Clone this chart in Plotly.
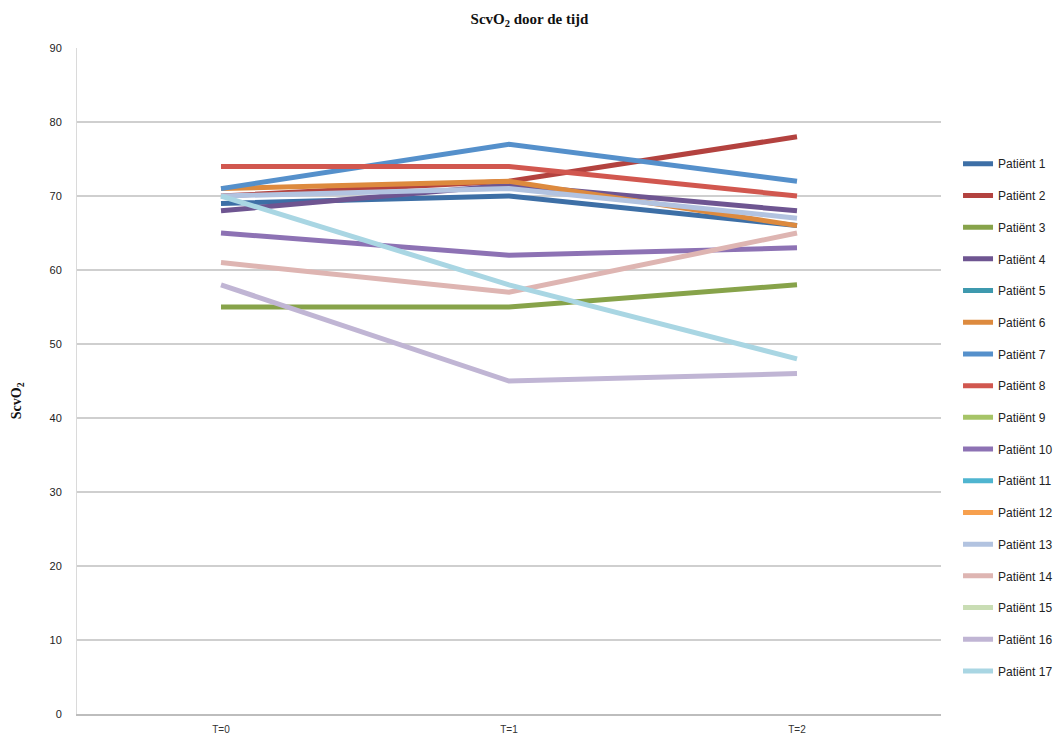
import plotly.graph_objects as go

# Measurement moments
tijdstippen = ["T=0", "T=1", "T=2"]

# ScvO2 per patient (None = no measurement)
patient_1 = [69, 70, 66]
patient_2 = [70, 72, 78]
patient_3 = [55, 55, 58]
patient_4 = [68, 71.5, 68]
patient_5 = [None, None, None]
patient_6 = [71, 72, 66]
patient_7 = [71, 77, 72]
patient_8 = [74, 74, 70]
patient_9 = [None, None, None]
patient_10 = [65, 62, 63]
patient_11 = [None, None, None]
patient_12 = [None, None, None]
patient_13 = [70, 71, 67]
patient_14 = [61, 57, 65]
patient_15 = [None, None, None]
patient_16 = [58, 45, 46]
patient_17 = [70, 58, 48]

series = [
    ("Patiënt 1", patient_1, "#3D6FA6"),
    ("Patiënt 2", patient_2, "#B3423F"),
    ("Patiënt 3", patient_3, "#87A34A"),
    ("Patiënt 4", patient_4, "#6E5591"),
    ("Patiënt 5", patient_5, "#3E99AE"),
    ("Patiënt 6", patient_6, "#DD8A3E"),
    ("Patiënt 7", patient_7, "#5590CB"),
    ("Patiënt 8", patient_8, "#D1574F"),
    ("Patiënt 9", patient_9, "#A6C467"),
    ("Patiënt 10", patient_10, "#8D72B4"),
    ("Patiënt 11", patient_11, "#4FB5D0"),
    ("Patiënt 12", patient_12, "#F7A04E"),
    ("Patiënt 13", patient_13, "#B2C3E0"),
    ("Patiënt 14", patient_14, "#DEB5B2"),
    ("Patiënt 15", patient_15, "#C9DDB4"),
    ("Patiënt 16", patient_16, "#C0B5D4"),
    ("Patiënt 17", patient_17, "#A9D6E3"),
]

fig = go.Figure()
for i, (naam, waarden, kleur) in enumerate(series):
    fig.add_trace(go.Scatter(
        x=tijdstippen, y=waarden, name=naam, mode="lines",
        line=dict(color=kleur, width=5),
        legendgroup=f"p{i}",
    ))

fig.update_layout(
    width=1059, height=735,
    paper_bgcolor="white", plot_bgcolor="white",
    margin=dict(l=77, r=118, t=48, b=21, autoexpand=False),
    title=dict(
        text="<b>ScvO<sub>2</sub> door de tijd</b>",
        x=0.5, xanchor="center", y=0.975, yanchor="middle",
        font=dict(family="Liberation Serif", size=15, color="#111111"),
    ),
    legend=dict(
        x=1.0197, xanchor="left", y=0.848, yanchor="top",
        traceorder="grouped", tracegroupgap=12.7,
        font=dict(family="Liberation Sans", size=12, color="#222222"),
        bgcolor="rgba(0,0,0,0)", itemwidth=30,
    ),
    showlegend=True,
)

fig.update_xaxes(
    type="category", range=[-0.5, 2.5], automargin=False,
    showgrid=False,
    showline=True, linecolor="#BDBDBD", linewidth=2,
    ticks="", ticklabelstandoff=5,
    tickfont=dict(family="Liberation Sans", size=10, color="#333333"),
)
fig.update_yaxes(
    range=[0, 90], dtick=10, automargin=False,
    showgrid=True, gridcolor="#CFCFCF", gridwidth=2,
    zeroline=False,
    showline=True, linecolor="#DADADA", linewidth=1,
    ticks="", ticklabelstandoff=12,
    tickfont=dict(family="Liberation Sans", size=11, color="#222222"),
)

fig.add_annotation(
    text="<b>ScvO<sub>2</sub></b>", textangle=-90,
    xref="paper", yref="paper", x=-0.068, y=0.47,
    xanchor="center", yanchor="middle", showarrow=False,
    font=dict(family="Liberation Serif", size=14, color="#111111"),
)

fig.write_html("out.html")
